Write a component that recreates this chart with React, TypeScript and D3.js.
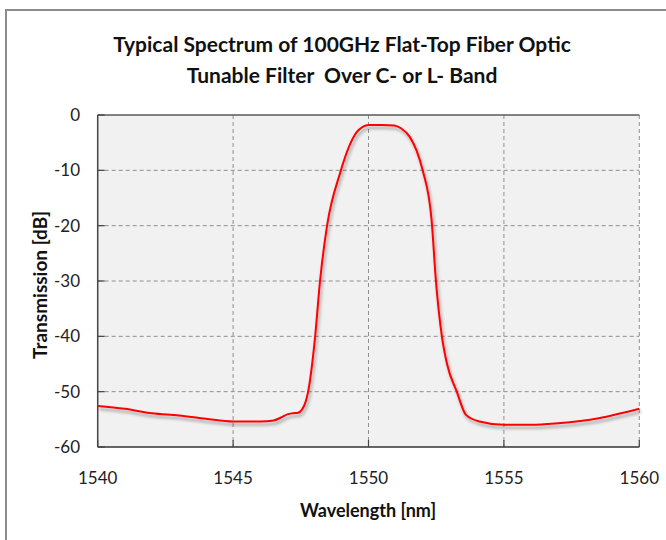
import React from 'react';
import * as d3 from 'd3';

// values
const wavelength = [
  1540, 1541, 1542, 1543, 1544, 1545, 1546, 1546.5, 1546.8, 1547.0, 1547.2, 1547.4,
  1547.55, 1547.68, 1547.77, 1548.03, 1548.21, 1548.47, 1548.95, 1549.3, 1549.55,
  1549.8, 1550.0, 1550.5, 1550.95, 1551.2, 1551.53, 1551.78, 1552.0, 1552.33, 1552.49,
  1552.71, 1552.9, 1553.26, 1553.6, 1554.1, 1555, 1556, 1557, 1558.5, 1560,
];
const transmission = [
  -52.6, -53.1, -53.9, -54.3, -54.9, -55.4, -55.4, -55.2, -54.6, -54.1, -53.9, -53.8,
  -53.2, -51.8, -50, -40, -30, -20, -10.5, -5.5, -3.2,
  -2.1, -1.8, -1.8, -1.9, -2.4, -4.0, -6.5, -10, -19, -30,
  -40, -45, -50, -54.2, -55.4, -56.0, -56.0, -55.7, -54.8, -53.1,
];
const xTicks = [1540, 1545, 1550, 1555, 1560];
const yTicks = [0, -10, -20, -30, -40, -50, -60];
const titleLines = ['Typical Spectrum of 100GHz Flat-Top Fiber Optic', 'Tunable Filter  Over C- or L- Band'];

const W = 666;
const H = 540;
const M = { left: 97.7, right: 639.3, top: 115, bottom: 447 };
const FONT = 'Lato, "Open Sans", sans-serif';

export default function App() {
  const x = d3.scaleLinear().domain([1540, 1560]).range([M.left, M.right]);
  const y = d3.scaleLinear().domain([-60, 0]).range([M.bottom, M.top]);

  const pts = wavelength.map((w, i) => [w, transmission[i]] as [number, number]);
  const line = d3.line<[number, number]>()
    .x(d => x(d[0]))
    .y(d => y(d[1]))
    .curve(d3.curveMonotoneX);

  return (
    <svg width={W} height={H} style={{ position: 'absolute', left: 0, top: 0, background: '#fff' }} fontFamily={FONT}>
      <defs>
        <filter id="shadow" x="-10%" y="-10%" width="120%" height="130%">
          <feDropShadow dx="1.5" dy="3" stdDeviation="1.6" floodColor="#000" floodOpacity="0.35" />
        </filter>
      </defs>

      {/* outer frame */}
      <path d={`M6,${H} V10 H${W}`} fill="none" stroke="#8c8c8c" strokeWidth={2} />

      {/* title */}
      {titleLines.map((t, i) => (
        <text key={i} x={342} y={52 + i * 31} textAnchor="middle" fontSize={21} fontWeight="bold" fill="#111"
          style={{ whiteSpace: 'pre' }}>
          {t}
        </text>
      ))}

      {/* plot area */}
      <rect x={M.left} y={M.top} width={M.right - M.left} height={M.bottom - M.top} fill="#f1f1f1" />

      {/* grid */}
      {yTicks.filter(t => t !== 0 && t !== -60).map(t => (
        <line key={'gy' + t} x1={M.left} x2={M.right} y1={y(t)} y2={y(t)} stroke="#8f8f8f" strokeDasharray="4,3" strokeWidth={1} />
      ))}
      {xTicks.filter(t => t !== 1540).map(t => (
        <line key={'gx' + t} x1={x(t)} x2={x(t)} y1={M.top} y2={M.bottom} stroke="#8f8f8f" strokeDasharray="4,3" strokeWidth={1} />
      ))}

      {/* axes lines */}
      <line x1={M.left} x2={M.right} y1={M.top} y2={M.top} stroke="#5a5a5a" strokeWidth={1.5} />
      <line x1={M.left} x2={M.left} y1={M.top} y2={M.bottom} stroke="#444" strokeWidth={1.5} />
      <line x1={M.left} x2={M.right} y1={M.bottom} y2={M.bottom} stroke="#333" strokeWidth={1.5} />

      {/* ticks */}
      {yTicks.map(t => (
        <line key={'ty' + t} x1={M.left} x2={M.left + 7} y1={y(t)} y2={y(t)} stroke="#444" strokeWidth={1.2} />
      ))}
      {xTicks.map(t => (
        <line key={'tx' + t} x1={x(t)} x2={x(t)} y1={M.bottom} y2={M.bottom - 7} stroke="#444" strokeWidth={1.2} />
      ))}

      {/* tick labels */}
      {yTicks.map(t => (
        <text key={'ly' + t} x={80} y={y(t) + 6} textAnchor="end" fontSize={17} fill="#222">
          {t}
        </text>
      ))}
      {xTicks.map(t => (
        <text key={'lx' + t} x={x(t)} y={484} textAnchor="middle" fontSize={17} fill="#222">
          {t}
        </text>
      ))}

      {/* axis titles */}
      <text x={368} y={517} textAnchor="middle" fontSize={18} fontWeight="bold" fill="#111">
        Wavelength [nm]
      </text>
      <text transform="translate(47,285) rotate(-90)" textAnchor="middle" fontSize={19} fontWeight="bold" fill="#111">
        Transmission [dB]
      </text>

      {/* spectrum */}
      <path d={line(pts) || ''} fill="none" stroke="#ff0000" strokeWidth={2} filter="url(#shadow)" />
    </svg>
  );
}
